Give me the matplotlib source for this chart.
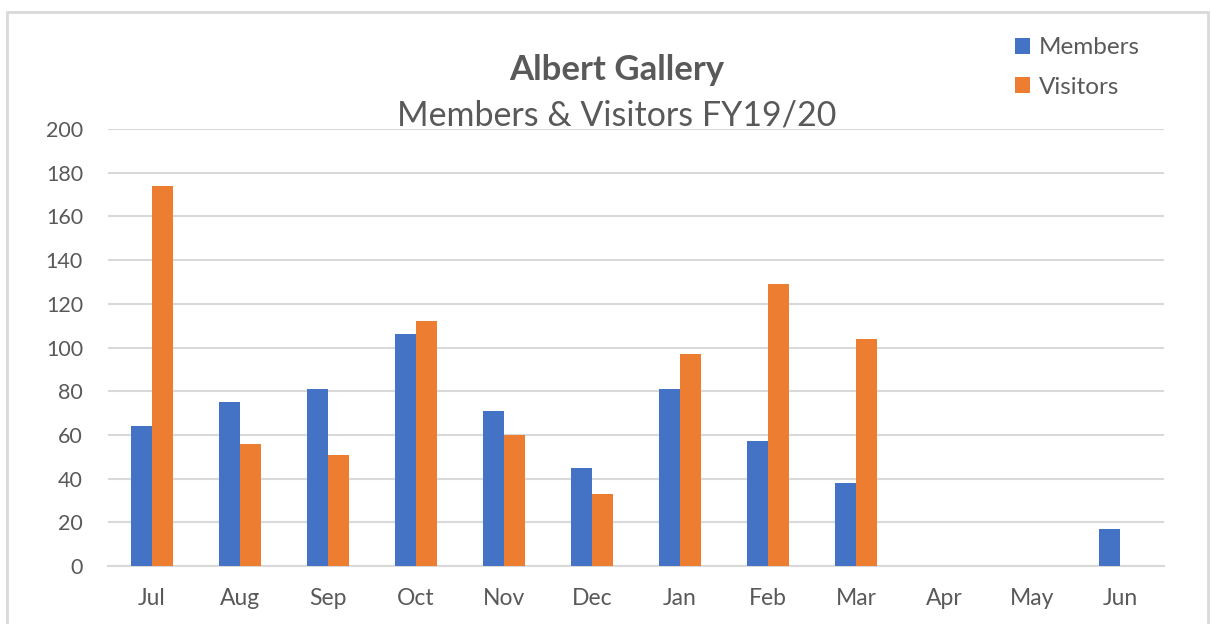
import numpy as np
import matplotlib
matplotlib.use("Agg")
from matplotlib import pyplot as plt
from matplotlib.patches import Rectangle

# data
months = ['Jul', 'Aug', 'Sep', 'Oct', 'Nov', 'Dec', 'Jan', 'Feb', 'Mar', 'Apr', 'May', 'Jun']
members = [64, 75, 81, 106, 71, 45, 81, 57, 38, 0, 0, 17]
visitors = [174, 56, 51, 112, 60, 33, 97, 129, 104, 0, 0, 0]

plt.rcParams['font.family'] = ['Lato', 'DejaVu Sans']
text_c = '#595959'
grid_c = '#d9d9d9'

fig = plt.figure(figsize=(12.12, 6.24), dpi=100)
ax = fig.add_axes([0.0891, 0.0929, 0.8713, 0.7004])

x = np.arange(len(months))
w = 0.24
ax.bar(x - w / 2, members, w, color='#4472c4', label='Members', zorder=3)
ax.bar(x + w / 2, visitors, w, color='#ed7d31', label='Visitors', zorder=3)

ax.set_xlim(-0.5, len(months) - 0.5)
ax.set_ylim(0, 200)
ax.set_yticks(range(0, 201, 20))
ax.set_xticks(x)
ax.set_xticklabels(months)
ax.tick_params(axis='both', length=0, colors=text_c)
ax.tick_params(axis='x', pad=16, labelsize=16.5)
ax.tick_params(axis='y', pad=18, labelsize=15.5)
ax.grid(axis='y', color=grid_c, linewidth=1.5, zorder=0)
for s in ['top', 'right', 'left']:
    ax.spines[s].set_visible(False)
ax.spines['bottom'].set_color(grid_c)
ax.spines['bottom'].set_linewidth(1.5)

# titles
fig.text(0.509, 0.888, 'Albert Gallery', ha='center', va='center',
         fontsize=25, fontweight='bold', color=text_c)
fig.text(0.509, 0.815, 'Members & Visitors FY19/20', ha='center', va='center',
         fontsize=24.5, color=text_c)

leg = fig.legend(loc='upper left', bbox_to_anchor=(0.819, 0.975), frameon=False,
                 fontsize=17.5, handlelength=0.65, handleheight=0.65, handletextpad=0.35,
                 labelspacing=0.75, labelcolor=text_c)

# chart border
fig.patches.append(Rectangle((0.006, -0.05), 0.991, 1.031, transform=fig.transFigure,
                             fill=False, edgecolor=grid_c, linewidth=2))

plt.savefig('out.png', dpi=100)
